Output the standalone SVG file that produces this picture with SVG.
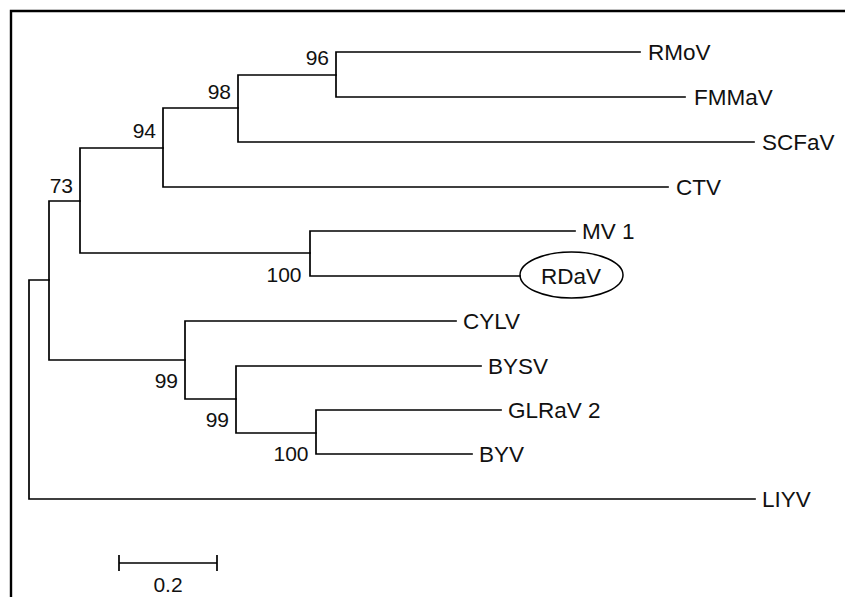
<svg xmlns="http://www.w3.org/2000/svg" width="845" height="597" viewBox="0 0 845 597">
<style>
.br{fill:none;stroke:#000;stroke-width:1.7;stroke-linecap:square}
.tx{font-family:"Liberation Sans",Arial,sans-serif;font-size:22.5px;fill:#111}
.bs{font-family:"Liberation Sans",Arial,sans-serif;font-size:21px;fill:#111;text-anchor:end}
</style>
<rect width="845" height="597" fill="#fff"/>
<path d="M11 597 V11 H845" fill="none" stroke="#000" stroke-width="2.4"/>
<g id="connectors">
<path class="br" d="M49 280 H29 V499 H755"/>
<path class="br" d="M80 201 H49 V360 H185"/>
<path class="br" d="M163 148 H80 V253 H310"/>
<path class="br" d="M238 108 H163 V187 H668"/>
<path class="br" d="M336 75 H238 V142 H754"/>
<path class="br" d="M640 52 H336 V97 H685"/>
<path class="br" d="M575 231 H310 V276 H520"/>
<path class="br" d="M456 321 H185 V399 H236"/>
<path class="br" d="M481 366 H236 V433 H316"/>
<path class="br" d="M501 410 H316 V454 H472"/>
</g>
<g id="leaf-RMoV"><text class="tx" x="648" y="60">RMoV</text></g>
<g id="leaf-FMMaV"><text class="tx" x="694" y="105">FMMaV</text></g>
<g id="leaf-SCFaV"><text class="tx" x="762" y="150">SCFaV</text></g>
<g id="leaf-CTV"><text class="tx" x="676" y="195">CTV</text></g>
<g id="leaf-MV1"><text class="tx" x="582" y="239">MV 1</text></g>
<g id="leaf-RDaV"><ellipse cx="571.5" cy="275" rx="51.5" ry="23" fill="none" stroke="#000" stroke-width="1.5"/><text class="tx" x="571" y="284" text-anchor="middle">RDaV</text></g>
<g id="leaf-CYLV"><text class="tx" x="463" y="329">CYLV</text></g>
<g id="leaf-BYSV"><text class="tx" x="488" y="374">BYSV</text></g>
<g id="leaf-GLRaV2"><text class="tx" x="508" y="418">GLRaV 2</text></g>
<g id="leaf-BYV"><text class="tx" x="479" y="462">BYV</text></g>
<g id="leaf-LIYV"><text class="tx" x="762" y="507">LIYV</text></g>
<g id="node-73"><text class="bs" x="73" y="193">73</text></g>
<g id="node-94"><text class="bs" x="156" y="138">94</text></g>
<g id="node-98"><text class="bs" x="231" y="99">98</text></g>
<g id="node-96"><text class="bs" x="329" y="65">96</text></g>
<g id="node-100a"><text class="bs" x="301.5" y="282">100</text></g>
<g id="node-99a"><text class="bs" x="178" y="388">99</text></g>
<g id="node-99b"><text class="bs" x="229" y="427">99</text></g>
<g id="node-100b"><text class="bs" x="308.5" y="461">100</text></g>
<g id="scale">
<path class="br" d="M119 563 H217 M119 555 V571 M217 555 V571" style="stroke-linecap:butt"/>
<text class="bs" x="168" y="592" style="text-anchor:middle">0.2</text>
</g>
</svg>
